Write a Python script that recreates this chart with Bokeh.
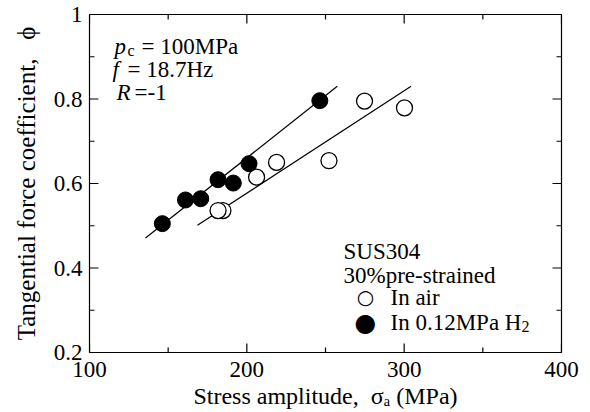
from bokeh.plotting import figure
from bokeh.models import Range1d, FixedTicker, Label
from bokeh.embed import file_html
from bokeh.resources import INLINE

# ---- data ----
air_stress = [184.8, 181.7, 206.2, 218.9, 252.2, 274.8, 300.2]
air_phi = [0.536, 0.536, 0.615, 0.650, 0.654, 0.795, 0.779]
h2_stress = [146.3, 161.0, 170.7, 181.7, 191.4, 201.4, 246.4]
h2_phi = [0.505, 0.561, 0.564, 0.609, 0.601, 0.647, 0.796]
air_fit_stress = [168.6, 304.4]
air_fit_phi = [0.501, 0.830]
h2_fit_stress = [135.6, 257.5]
h2_fit_phi = [0.471, 0.830]
x_ticks = [100, 200, 300, 400]
x_minor = [150, 250, 350]
y_ticks = [0.2, 0.4, 0.6, 0.8, 1.0]
y_minor = [0.3, 0.5, 0.7, 0.9]
y_tick_labels = ["0.2", "0.4", "0.6", "0.8", "1"]

FONT = "Liberation Serif"
FS = "23px"
X0, X1 = x_ticks[0], x_ticks[-1]
Y0, Y1 = y_ticks[0], y_ticks[-1]
FRAME_W, FRAME_H = 472, 338

p = figure(width=590, height=412,
           x_range=Range1d(X0, X1), y_range=Range1d(Y0, Y1),
           output_backend="svg", toolbar_location=None,
           min_border_left=89, min_border_right=29,
           min_border_top=14, min_border_bottom=60)
p.outline_line_color = "black"
p.outline_line_width = 1.2
p.background_fill_color = "white"
p.border_fill_color = "white"
p.xgrid.visible = False
p.ygrid.visible = False

xt = FixedTicker(ticks=x_ticks, minor_ticks=x_minor)
yt = FixedTicker(ticks=y_ticks, minor_ticks=y_minor)


def style_axis(ax):
    ax.axis_line_color = None
    ax.major_tick_line_color = None
    ax.minor_tick_line_color = None
    ax.major_tick_in = 0
    ax.major_tick_out = 0
    ax.minor_tick_in = 0
    ax.minor_tick_out = 0
    ax.major_label_text_font = FONT
    ax.major_label_text_font_size = FS
    ax.major_label_text_color = "black"


xa = p.xaxis[0]
xa.ticker = xt
style_axis(xa)
xa.major_label_standoff = 9
xa.axis_label = "Stress amplitude,\u00a0 \u03c3\u2090 (MPa)"
xa.axis_label_text_font = FONT
xa.axis_label_text_font_size = "24px"
xa.axis_label_text_font_style = "normal"
xa.axis_label_text_color = "black"
xa.axis_label_standoff = 3

ya = p.yaxis[0]
ya.ticker = yt
style_axis(ya)
ya.major_label_standoff = 7
ya.major_label_overrides = {v: s for v, s in zip(y_ticks, y_tick_labels)}
ya.axis_label = "Tangential force coefficient,\u00a0\u00a0 \u03d5"
ya.axis_label_text_font = FONT
ya.axis_label_text_font_size = "25px"
ya.axis_label_text_font_style = "normal"
ya.axis_label_text_color = "black"
ya.axis_label_standoff = 11

# inward tick marks on all four sides, drawn as short segments from the frame edge
def px_x(n):
    return n * (X1 - X0) / FRAME_W


def px_y(n):
    return n * (Y1 - Y0) / FRAME_H


for xs, ln in ((x_ticks, 9), (x_minor, 5)):
    n = len(xs)
    p.segment(x0=xs, y0=[Y0] * n, x1=xs, y1=[Y0 + px_y(ln)] * n,
              line_color="black", line_width=1.2)
    p.segment(x0=xs, y0=[Y1] * n, x1=xs, y1=[Y1 - px_y(ln)] * n,
              line_color="black", line_width=1.2)
for ys, ln in ((y_ticks, 9), (y_minor, 5)):
    n = len(ys)
    p.segment(x0=[X0] * n, y0=ys, x1=[X0 + px_x(ln)] * n, y1=ys,
              line_color="black", line_width=1.2)
    p.segment(x0=[X1] * n, y0=ys, x1=[X1 - px_x(ln)] * n, y1=ys,
              line_color="black", line_width=1.2)

# fit lines
p.line(h2_fit_stress, h2_fit_phi, line_color="black", line_width=1.2)
p.line(air_fit_stress, air_fit_phi, line_color="black", line_width=1.2)

# points
p.scatter(air_stress, air_phi, size=16, marker="circle", fill_color="white",
          line_color="black", line_width=1.3)
p.scatter(h2_stress, h2_phi, size=16, marker="circle", fill_color="black",
          line_color="black", line_width=1.0)


def add_text(txt, sx, sy, size=FS, style="normal", align="left", font=FONT):
    p.add_layout(Label(x=sx, y=sy + 6, x_units="screen", y_units="screen", text=txt,
                       text_font=font, text_font_size=size,
                       text_font_style=style, text_align=align,
                       text_baseline="alphabetic", text_color="black"))


# conditions (top-left)
add_text("p", 25, 300, style="italic")
add_text("c", 38, 296, size="16px")
add_text("= 100MPa", 52, 300)
add_text("f", 23, 277, style="italic")
add_text("= 18.7Hz", 38, 277)
add_text("R", 27, 254, style="italic")
add_text("=-1", 45, 254)

# legend block
add_text("SUS304", 254, 95)
add_text("30%pre-strained", 254, 71)
add_text("\u25cb", 276, 50, size="20px", align="center", font="DejaVu Sans")
add_text("In air", 301, 49)
add_text("\u25cf", 276, 24, size="25px", align="center", font="DejaVu Sans")
add_text("In 0.12MPa H", 301, 24)
add_text("2", 432, 20, size="16px")

open("out.html", "w").write(file_html(p, INLINE))
